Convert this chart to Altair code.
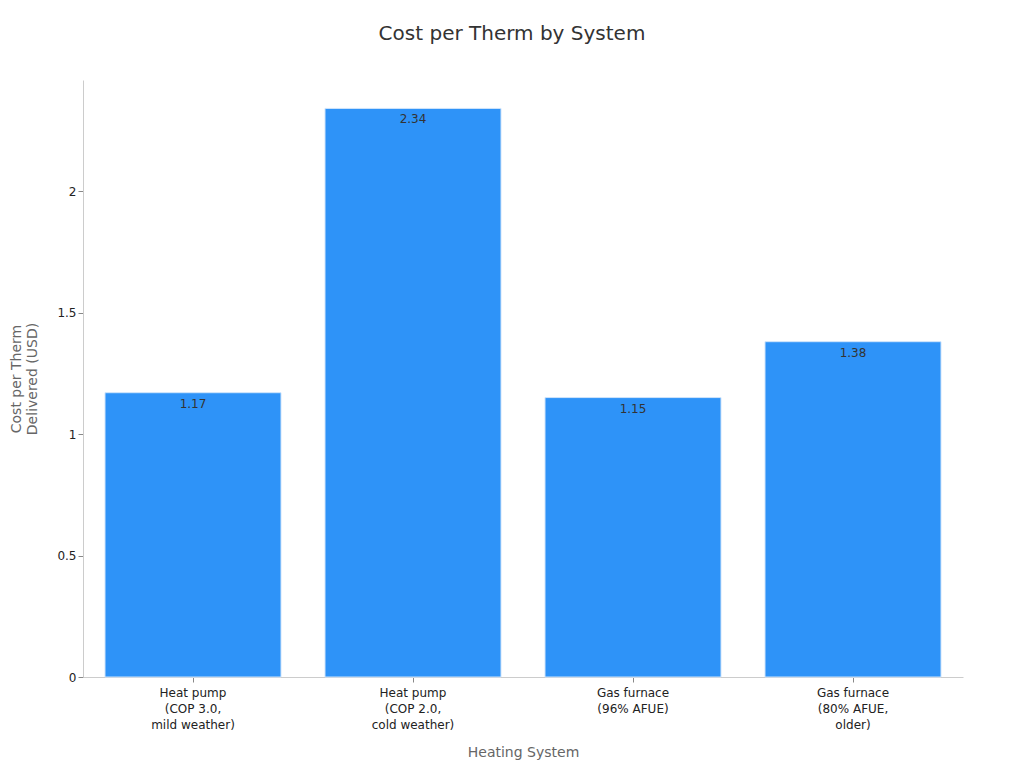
import altair as alt
import pandas as pd

systems = [
    "Heat pump\n(COP 3.0,\nmild weather)",
    "Heat pump\n(COP 2.0,\ncold weather)",
    "Gas furnace\n(96% AFUE)",
    "Gas furnace\n(80% AFUE,\nolder)",
]
costs = [1.17, 2.34, 1.15, 1.38]

df = pd.DataFrame({"system": systems, "cost": costs})

FONT = "DejaVu Sans"

base = alt.Chart(df).encode(
    x=alt.X(
        "system:N",
        sort=systems,
        title="Heating System",
        scale=alt.Scale(paddingInner=0.2, paddingOuter=0.1),
        axis=alt.Axis(
            labelAngle=0,
            labelExpr="split(datum.label, '\\n')",
            labelFontSize=12,
            labelColor="#222222",
            labelPadding=5,
            titleFontSize=14,
            titleColor="#666666",
            titleFontWeight="normal",
            titlePadding=15,
            domainColor="#cccccc",
            tickColor="#888888",
            labelLineHeight=16,
        ),
    ),
    y=alt.Y(
        "cost:Q",
        title=["Cost per Therm", "Delivered (USD)"],
        scale=alt.Scale(domain=[0, 2.457], nice=False),
        axis=alt.Axis(
            values=[0, 0.5, 1, 1.5, 2],
            format="~g",
            grid=False,
            labelFontSize=12,
            labelColor="#222222",
            titleFontSize=14,
            titleColor="#666666",
            titleFontWeight="normal",
            titlePadding=17,
            domainColor="#cccccc",
            tickColor="#888888",
        ),
    ),
)

bars = base.mark_bar(color="#2E93F8", stroke="#cfe4fb", strokeWidth=1)
labels = base.mark_text(baseline="top", dy=6, fontSize=12, color="#333333", font=FONT).encode(
    text=alt.Text("cost:Q", format=".2f")
)

chart = (
    (bars + labels)
    .properties(
        width=880,
        height=597,
        title=alt.Title("Cost per Therm by System", fontSize=20, fontWeight="normal", color="#333333", offset=36, dx=-11),
        autosize=alt.AutoSizeParams(type="none"),
        padding={"left": 75, "top": 72, "right": 45, "bottom": 90},
    )
    .configure(font=FONT)
    .configure_view(stroke=None)
)

chart.save("out.html", embed_options={"renderer": "svg", "actions": False})
